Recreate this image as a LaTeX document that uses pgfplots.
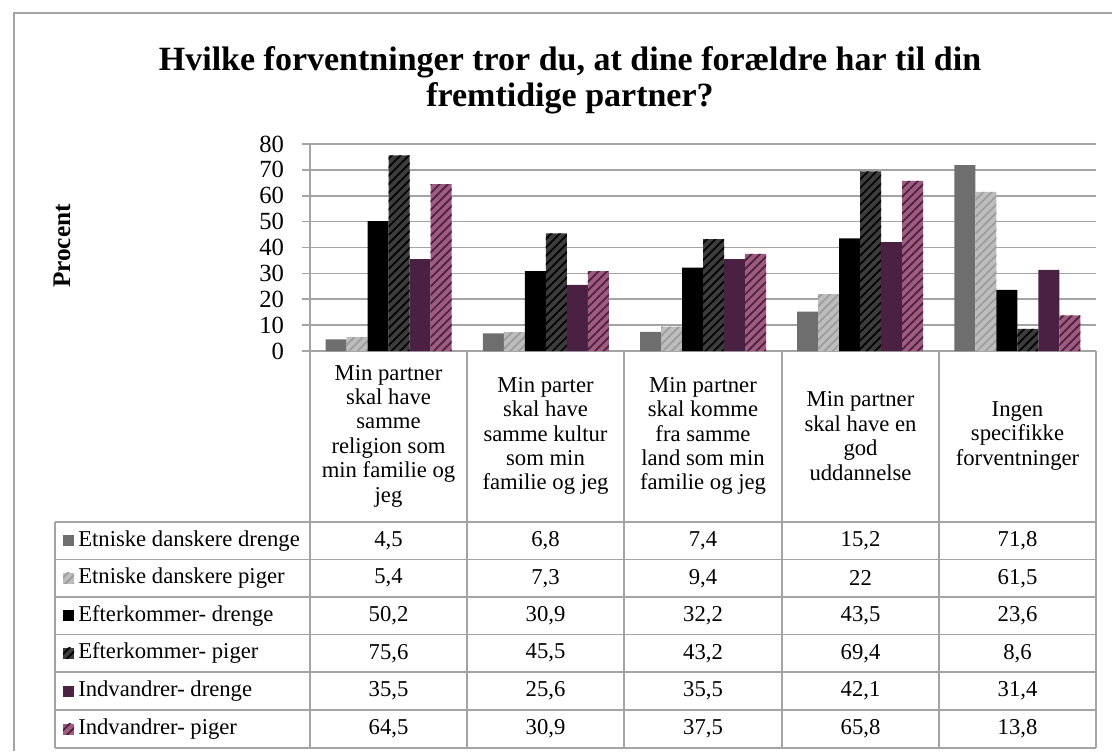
\documentclass[border=0pt]{standalone}
\usepackage{pgfplots}
\pgfplotsset{compat=1.18}
\usepackage{fontspec}
\setmainfont{Liberation Serif}
\usetikzlibrary{patterns.meta}
\definecolor{ga}{HTML}{6E6E6E}
\definecolor{gb}{HTML}{BDBDBD}
\definecolor{gbs}{HTML}{9C9C9C}
\definecolor{ka}{HTML}{000000}
\definecolor{kb}{HTML}{3C3C3C}
\definecolor{pa}{HTML}{4A2142}
\definecolor{pb}{HTML}{A05C7E}
\definecolor{pbs}{HTML}{4A2142}
\definecolor{gridc}{HTML}{A4A4A4}
\tikzset{
  sA/.style={fill=ga,draw=none},
  sB/.style={fill=gb,draw=none,postaction={pattern={Lines[angle=45,distance=4.5pt,line width=1.3pt]},pattern color=gbs}},
  sC/.style={fill=ka,draw=none},
  sD/.style={fill=kb,draw=none,postaction={pattern={Lines[angle=45,distance=4.5pt,line width=1.3pt]},pattern color=black}},
  sE/.style={fill=pa,draw=none},
  sF/.style={fill=pb,draw=none,postaction={pattern={Lines[angle=45,distance=4.5pt,line width=1.3pt]},pattern color=pbs}},
}
\newcommand\tfont{\fontsize{17}{18.3}\selectfont}
\begin{document}
\begin{tikzpicture}
\begin{scope}[x=0.75pt,y=-0.75pt]
  \path[use as bounding box] (0,0) rectangle (1112,751);
  \draw[gridc,line width=1.2pt] (14,751) -- (14,13) -- (1112,13);
  \node[align=center,font=\fontsize{25.5}{27}\selectfont\bfseries] at (570,80)
    {Hvilke forventninger tror du, at dine forældre har til din\\fremtidige partner?};
  \node[rotate=90,font=\fontsize{19}{20}\selectfont\bfseries] at (62,246) {Procent};
\end{scope}
\begin{axis}[
  at={(232.5pt,-263.25pt)}, anchor=south west,
  scale only axis, width=589.5pt, height=155.25pt,
  xmin=-0.5, xmax=4.5, ymin=0, ymax=80,
  ytick={0,10,...,80}, xtick=\empty,
  axis x line*=bottom, axis y line*=left,
  axis line style={gridc,line width=1.2pt},
  ymajorgrids, grid style={gridc,line width=1.2pt},
  tick align=outside, major tick length=6pt,
  tick style={gridc,line width=1.2pt},
  yticklabel style={font=\fontsize{18.5}{18.5}\selectfont, xshift=-10pt},
  /pgf/number format/assume math mode=true,
  ybar=0pt, bar width=15.75pt,
  clip=false,
]
\addplot[sA] coordinates {(0,4.5) (1,6.8) (2,7.4) (3,15.2) (4,71.8)};
\addplot[sB] coordinates {(0,5.4) (1,7.3) (2,9.4) (3,22) (4,61.5)};
\addplot[sC] coordinates {(0,50.2) (1,30.9) (2,32.2) (3,43.5) (4,23.6)};
\addplot[sD] coordinates {(0,75.6) (1,45.5) (2,43.2) (3,69.4) (4,8.6)};
\addplot[sE] coordinates {(0,35.5) (1,25.6) (2,35.5) (3,42.1) (4,31.4)};
\addplot[sF] coordinates {(0,64.5) (1,30.9) (2,37.5) (3,65.8) (4,13.8)};
\end{axis}
\begin{scope}[x=0.75pt,y=-0.75pt]
  % table grid
  \foreach \yy in {522,559.5,597,634.5,672,710,748} \draw[gridc,line width=1.2pt] (55,\yy) -- (1096,\yy);
  \draw[gridc,line width=1.2pt] (55,522) -- (55,748);
  \foreach \xx in {310,467,624,782,939,1096} \draw[gridc,line width=1.2pt] (\xx,351) -- (\xx,748);
  % category labels
  \foreach \cx/\txt in {388.5/{Min partner\\skal have\\samme\\religion som\\min familie og\\jeg},
                        545.5/{Min parter\\skal have\\samme kultur\\som min\\familie og jeg},
                        703/{Min partner\\skal komme\\fra samme\\land som min\\familie og jeg},
                        860.5/{Min partner\\skal have en\\god\\uddannelse},
                        1017.5/{Ingen\\specifikke\\forventninger}}
    \node[align=center,font=\tfont,inner sep=0pt] at (\cx,436) {\txt};
  % rows
  \foreach \ry/\st/\lab in {540.75/sA/Etniske danskere drenge, 578.25/sB/Etniske danskere piger,
                            615.75/sC/Efterkommer- drenge, 653.25/sD/Efterkommer- piger,
                            691/sE/Indvandrer- drenge, 729/sF/Indvandrer- piger}{
    \path[\st] (63,\ry-5.5) rectangle (74,\ry+5.5);
    \node[anchor=west,font=\tfont,inner sep=0pt] at (78,\ry) {\lab};
  }
  \newcommand\trow[6]{%
    \node[font=\tfont] at (388.5,#1) {#2};
    \node[font=\tfont] at (545.5,#1) {#3};
    \node[font=\tfont] at (703,#1) {#4};
    \node[font=\tfont] at (860.5,#1) {#5};
    \node[font=\tfont] at (1017.5,#1) {#6};}
  \trow{540.75}{4,5}{6,8}{7,4}{15,2}{71,8}
  \trow{578.25}{5,4}{7,3}{9,4}{22}{61,5}
  \trow{615.75}{50,2}{30,9}{32,2}{43,5}{23,6}
  \trow{653.25}{75,6}{45,5}{43,2}{69,4}{8,6}
  \trow{691}{35,5}{25,6}{35,5}{42,1}{31,4}
  \trow{729}{64,5}{30,9}{37,5}{65,8}{13,8}
\end{scope}
\end{tikzpicture}
\end{document}
